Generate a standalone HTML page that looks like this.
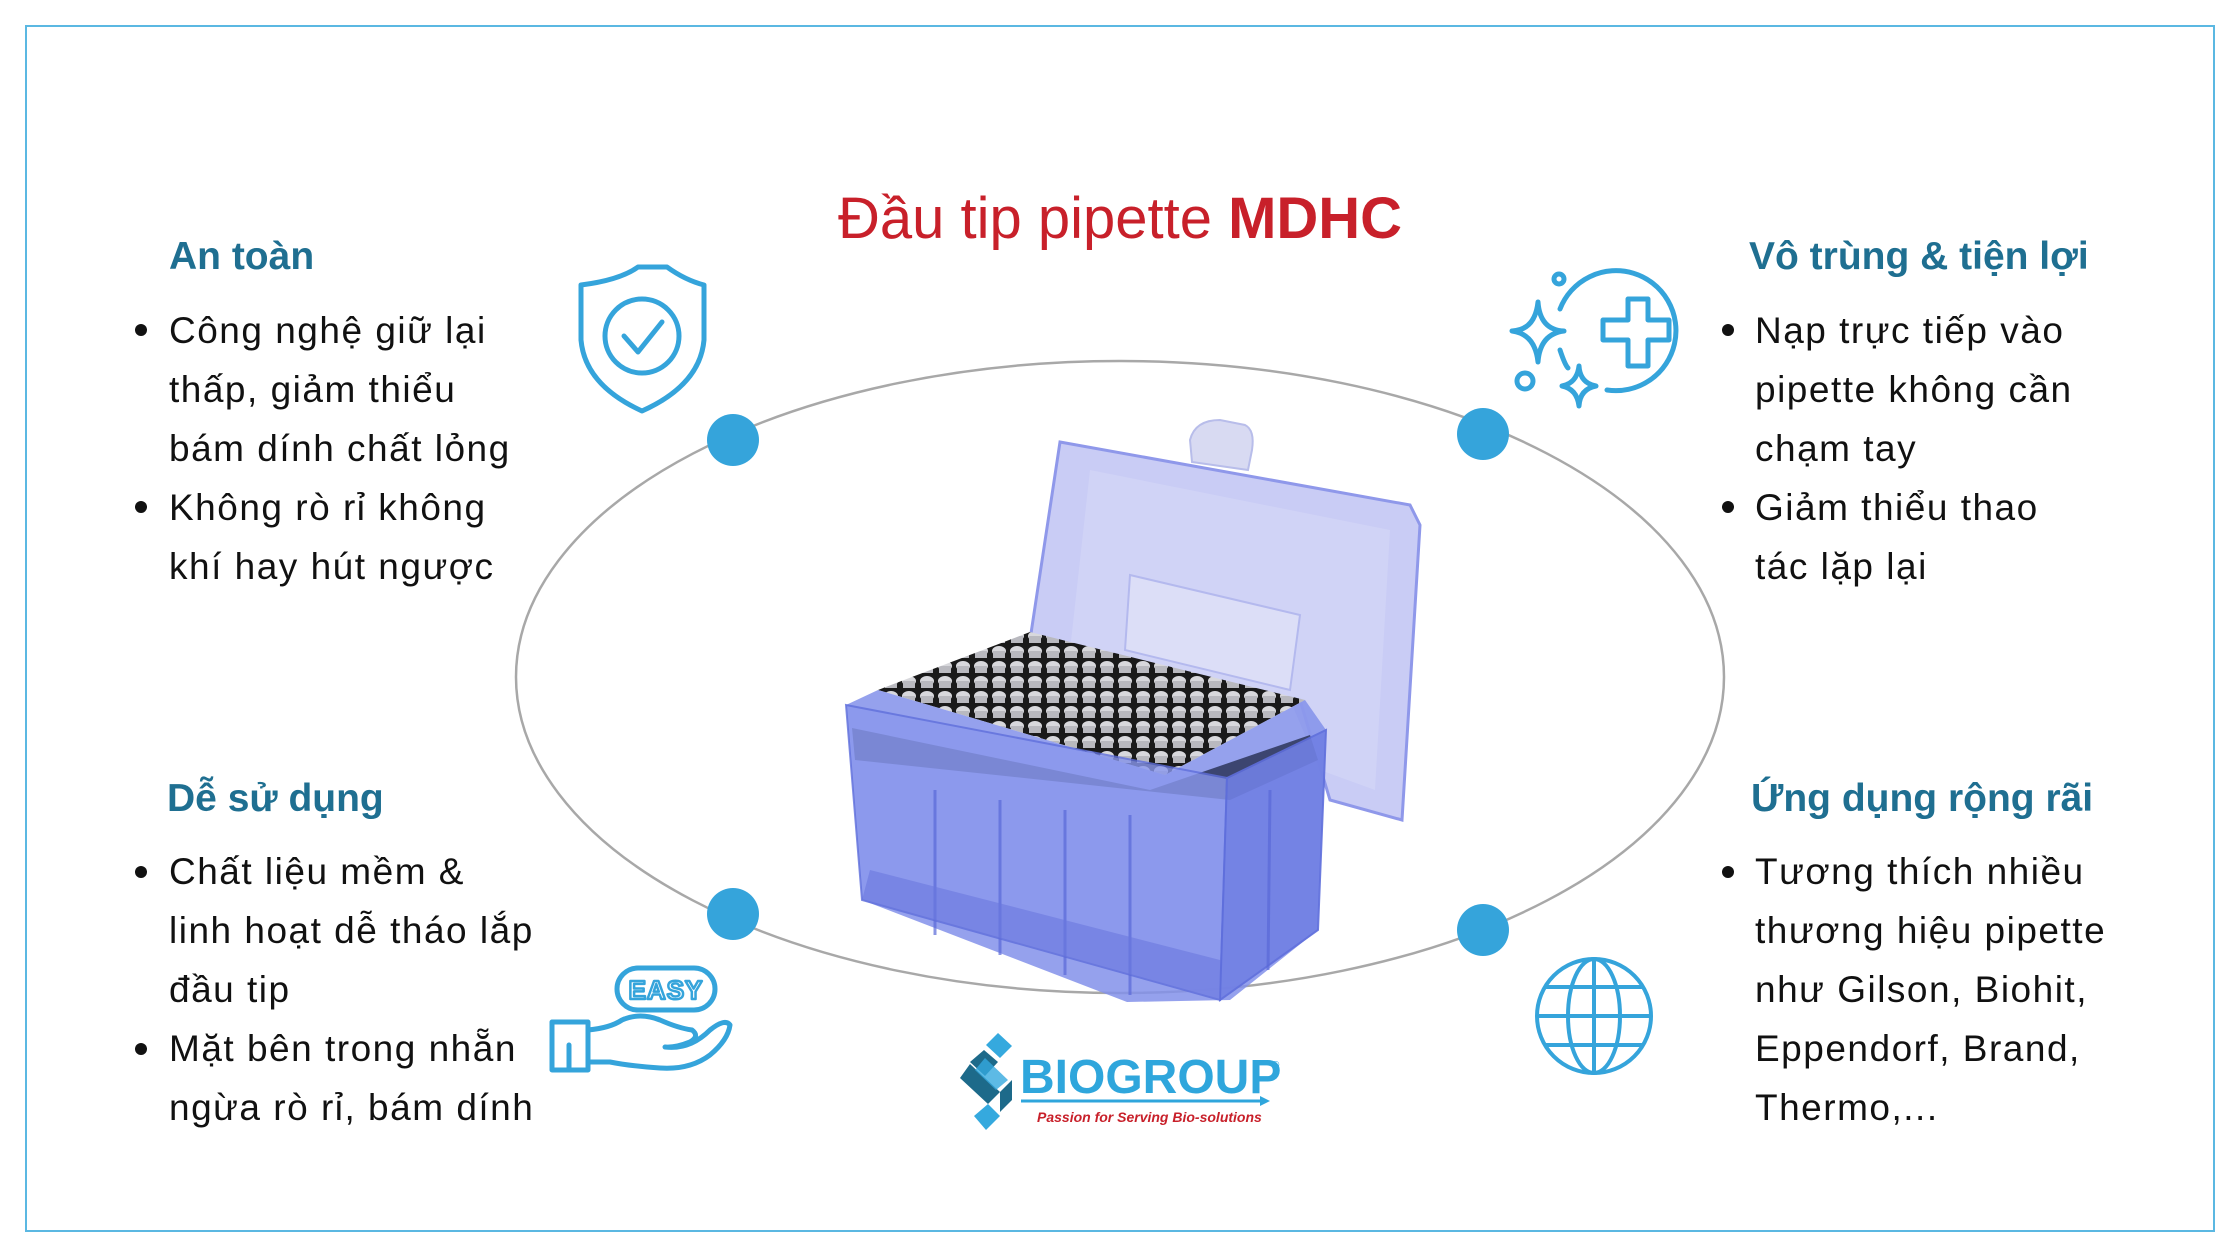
<!DOCTYPE html>
<html><head><meta charset="utf-8"><style>
html,body{margin:0;padding:0;background:#fff;}
svg{display:block;}
text{font-family:"Liberation Sans","DejaVu Sans",sans-serif;}
</style></head><body>
<svg width="2240" height="1260" viewBox="0 0 2240 1260" xmlns="http://www.w3.org/2000/svg">
<defs>
<pattern id="tips" x="0" y="0" width="18" height="15" patternUnits="userSpaceOnUse">
<rect width="18" height="15" fill="#1a1a1a"/>
<ellipse cx="9" cy="6" rx="7" ry="5" fill="#d8d8dc"/>
<rect x="3" y="6" width="12" height="7" fill="#b9b9bf"/>
</pattern>
</defs>
<rect x="26" y="26" width="2188" height="1205" fill="none" stroke="#5bb8e2" stroke-width="2"/>
<text x="1120" y="238" text-anchor="middle" font-size="58" fill="#c8202a">Đầu tip pipette <tspan font-weight="bold">MDHC</tspan></text>
<ellipse cx="1120" cy="677" rx="604" ry="316" fill="none" stroke="#a8a8a8" stroke-width="2.5"/>

<!-- box image -->
<g>
<path d="M1190,440 Q1195,420 1220,420 L1245,425 Q1255,430 1252,450 L1248,470 L1192,462 Z" fill="#d8daf2" stroke="#b8bdea" stroke-width="2"/>
<polygon points="1060,442 1410,505 1420,525 1402,820 1330,800 1300,700 1030,640" fill="#c9ccf5" stroke="#8f98ea" stroke-width="3"/>
<polygon points="1090,470 1390,530 1375,790 1320,770 1290,700 1070,650" fill="#d3d6f7" opacity="0.7"/>
<polygon points="1130,575 1300,615 1290,690 1125,650" fill="#dcdef7" stroke="#b4b9ee" stroke-width="2"/>
<polygon points="878,690 1030,632 1305,700 1165,775" fill="url(#tips)"/>
<polygon points="846,705 878,690 1165,775 1305,700 1326,730 1318,930 1230,1000 1127,1002 862,900" fill="#8391ea" opacity="0.85"/>
<polygon points="852,728 1150,790 1310,735 1318,760 1230,800 855,760" fill="#3c4570"/>
<polygon points="846,705 1227,778 1220,1000 862,900" fill="#8a98ee" opacity="0.8" stroke="#5f6fdc" stroke-width="2"/>
<polygon points="1227,778 1326,730 1318,930 1220,1000" fill="#7180e4" opacity="0.9" stroke="#5f6fdc" stroke-width="2"/>
<g stroke="#5a69d8" stroke-width="3" opacity="0.7">
<line x1="935" y1="790" x2="935" y2="935"/><line x1="1000" y1="800" x2="1000" y2="955"/>
<line x1="1065" y1="810" x2="1065" y2="975"/><line x1="1130" y1="815" x2="1130" y2="995"/>
<line x1="1270" y1="790" x2="1268" y2="970"/>
</g>
<polygon points="870,870 1220,960 1220,1000 862,900" fill="#6a78de" opacity="0.6"/>
</g>

<!-- dots -->
<circle cx="733" cy="440" r="26" fill="#35a4db"/>
<circle cx="1483" cy="434" r="26" fill="#35a4db"/>
<circle cx="733" cy="914" r="26" fill="#35a4db"/>
<circle cx="1483" cy="930" r="26" fill="#35a4db"/>

<!-- headings -->
<g font-size="39" font-weight="bold" fill="#1f6f91">
<text x="169" y="269">An toàn</text>
<text x="1749" y="269">Vô trùng &amp; tiện lợi</text>
<text x="167" y="811">Dễ sử dụng</text>
<text x="1751" y="811">Ứng dụng rộng rãi</text>
</g>
<g font-size="37" fill="#111" letter-spacing="1.5">
<circle cx="141" cy="330" r="6"/><circle cx="141" cy="507" r="6"/>
<text x="169" y="343">Công nghệ giữ lại</text>
<text x="169" y="402">thấp, giảm thiểu</text>
<text x="169" y="461">bám dính chất lỏng</text>
<text x="169" y="520">Không rò rỉ không</text>
<text x="169" y="579">khí hay hút ngược</text>

<circle cx="1728" cy="330" r="6"/><circle cx="1728" cy="507" r="6"/>
<text x="1755" y="343">Nạp trực tiếp vào</text>
<text x="1755" y="402">pipette không cần</text>
<text x="1755" y="461">chạm tay</text>
<text x="1755" y="520">Giảm thiểu thao</text>
<text x="1755" y="579">tác lặp lại</text>

<circle cx="141" cy="872" r="6"/><circle cx="141" cy="1049" r="6"/>
<text x="169" y="884">Chất liệu mềm &amp;</text>
<text x="169" y="943">linh hoạt dễ tháo lắp</text>
<text x="169" y="1002">đầu tip</text>
<text x="169" y="1061">Mặt bên trong nhẵn</text>
<text x="169" y="1120">ngừa rò rỉ, bám dính</text>

<circle cx="1728" cy="872" r="6"/>
<text x="1755" y="884">Tương thích nhiều</text>
<text x="1755" y="943">thương hiệu pipette</text>
<text x="1755" y="1002">như Gilson, Biohit,</text>
<text x="1755" y="1061">Eppendorf, Brand,</text>
<text x="1755" y="1120">Thermo,...</text>
</g>

<!-- shield icon -->
<g fill="none" stroke="#35a4db" stroke-width="5" stroke-linejoin="round" stroke-linecap="round">
<path d="M581,285 Q620,280 638,267 L667,267 Q685,280 704,285 L704,340 Q700,385 642,411 Q585,385 581,340 Z"/>
<circle cx="642" cy="336" r="37"/>
<path d="M624,336 L638,352 L662,322"/>
</g>

<!-- sparkle icon -->
<g fill="none" stroke="#35a4db" stroke-width="5" stroke-linecap="round" stroke-linejoin="round">
<path d="M1560,309 A60,60 0 1 1 1607,390"/>
<path d="M1560,350 Q1565,365 1568,368"/>
<path d="M1603,320 L1628,320 L1628,299 L1648,299 L1648,320 L1669,320 L1669,340 L1648,340 L1648,366 L1628,366 L1628,340 L1603,340 Z"/>
<path d="M1538,302 Q1540,330 1564,331 Q1540,334 1538,362 Q1535,334 1512,331 Q1535,330 1538,302 Z"/>
<path d="M1579,366 Q1580,383 1596,386 Q1580,389 1579,406 Q1577,389 1562,386 Q1577,383 1579,366 Z"/>
<circle cx="1559" cy="279" r="5"/>
<circle cx="1525" cy="381" r="8"/>
</g>

<!-- easy hand icon -->
<g fill="none" stroke="#35a4db" stroke-width="5" stroke-linejoin="round" stroke-linecap="round">
<rect x="617" y="968" width="98" height="42" rx="21"/>
<path d="M552,1022 L588,1022 L588,1070 L552,1070 Z"/>
<path d="M569,1045 L569,1070"/>
<path d="M588,1030 Q610,1028 622,1020 Q640,1012 660,1020 Q678,1028 692,1030 Q700,1036 690,1042 Q675,1048 665,1047 Q690,1050 710,1030 Q725,1018 730,1025 Q728,1040 710,1055 Q690,1070 660,1068 Q630,1066 610,1062 L588,1062"/>
<text x="666" y="999" text-anchor="middle" font-size="26" font-weight="bold" fill="none" stroke="#35a4db" stroke-width="2.5" letter-spacing="1">EASY</text>
</g>

<!-- globe icon -->
<g fill="none" stroke="#35a4db" stroke-width="4">
<circle cx="1594" cy="1016" r="57"/>
<ellipse cx="1594" cy="1016" rx="26" ry="57"/>
<line x1="1594" y1="959" x2="1594" y2="1073"/>
<line x1="1537" y1="1016" x2="1651" y2="1016"/>
<line x1="1545" y1="987" x2="1643" y2="987"/>
<line x1="1545" y1="1045" x2="1643" y2="1045"/>
</g>

<!-- logo -->
<g>
<polygon points="998,1033 1012,1046 1000,1058 986,1045" fill="#35a9de"/>
<polygon points="984,1050 998,1062 985,1076 970,1062" fill="#1d6a8a"/>
<polygon points="970,1064 1000,1092 988,1104 960,1078" fill="#1d6a8a"/>
<polygon points="985,1058 1008,1080 996,1090 975,1070" fill="#35a9de" opacity="0.8"/>
<polygon points="1000,1092 1012,1080 1012,1100 1000,1112" fill="#1d6a8a"/>
<polygon points="974,1116 988,1104 1000,1116 986,1130" fill="#35a9de"/>
<text x="1020" y="1093" font-size="48" font-weight="bold" fill="#2fa6dc">BIOGROUP</text>
<text x="1272" y="1068" font-size="10" fill="#2fa6dc">®</text>
<line x1="1021" y1="1101" x2="1262" y2="1101" stroke="#2fa6dc" stroke-width="3"/>
<polygon points="1260,1096 1270,1101 1260,1106" fill="#2fa6dc"/>
<text x="1037" y="1122" font-size="14" font-weight="bold" font-style="italic" fill="#c8202a">Passion for Serving Bio-solutions</text>
</g>
</svg>
</body></html>
